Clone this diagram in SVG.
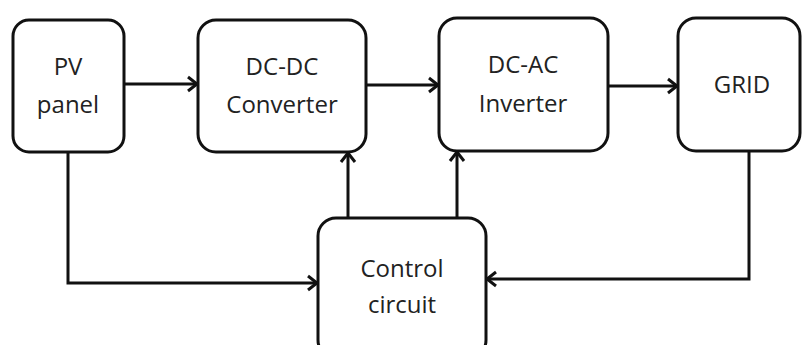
<svg xmlns="http://www.w3.org/2000/svg" width="806" height="345" viewBox="0 0 806 345">
<defs>
<style>
.box{fill:#fff;stroke:#111;stroke-width:3}
.ln{fill:none;stroke:#111;stroke-width:3}
text{font-family:"Open Sans","Liberation Sans",sans-serif;font-size:24px;fill:#222;text-anchor:middle}
</style>
<marker id="ah" markerUnits="userSpaceOnUse" markerWidth="16" markerHeight="18" refX="13" refY="9" orient="auto">
<path d="M4,2 L13,9 L4,16" fill="none" stroke="#111" stroke-width="3"/>
</marker>
</defs>
<rect width="806" height="345" fill="#fff"/>
<g id="connectors">
<line class="ln" x1="124" y1="84" x2="197" y2="84" marker-end="url(#ah)"/>
<line class="ln" x1="366" y1="85" x2="438" y2="85" marker-end="url(#ah)"/>
<line class="ln" x1="608" y1="86" x2="677" y2="86" marker-end="url(#ah)"/>
<polyline class="ln" points="68,152 68,283 317,283" marker-end="url(#ah)"/>
<polyline class="ln" points="749,151 749,279 487,279" marker-end="url(#ah)"/>
<line class="ln" x1="348" y1="218" x2="348" y2="153" marker-end="url(#ah)"/>
<line class="ln" x1="457" y1="218" x2="457" y2="152" marker-end="url(#ah)"/>
</g>
<g id="pv">
<rect class="box" x="13" y="20" width="111" height="132" rx="16"/>
<text x="68" y="75">PV</text>
<text x="68" y="113">panel</text>
</g>
<g id="dcdc">
<rect class="box" x="198" y="20" width="168" height="132" rx="18"/>
<text x="282" y="75">DC-DC</text>
<text x="282" y="113">Converter</text>
</g>
<g id="dcac">
<rect class="box" x="439" y="18" width="169" height="133" rx="18"/>
<text x="523" y="73">DC-AC</text>
<text x="523" y="112">Inverter</text>
</g>
<g id="grid">
<rect class="box" x="678" y="18" width="122" height="133" rx="18"/>
<text x="742" y="93">GRID</text>
</g>
<g id="control">
<rect class="box" x="318" y="218" width="168" height="140" rx="18"/>
<text x="402" y="277">Control</text>
<text x="402" y="313">circuit</text>
</g>
</svg>
